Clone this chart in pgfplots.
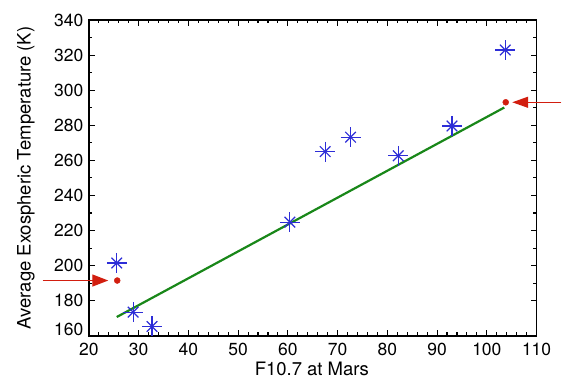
\documentclass[border=0pt]{standalone}
\usepackage{pgfplots}
\pgfplotsset{compat=1.18}
\usepackage{fontspec}
\setmainfont{TeX Gyre Heros}
\usetikzlibrary{arrows.meta}
\definecolor{starblue}{RGB}{45,45,215}
\definecolor{fitgreen}{RGB}{25,135,25}
\definecolor{arrred}{RGB}{210,30,15}
\begin{document}
\begin{tikzpicture}
\begin{axis}[
  scale only axis, width=448pt, height=316pt,
  xmin=20, xmax=110, ymin=160, ymax=340,
  xtick={20,30,...,110}, ytick={180,200,...,340},
  extra y ticks={160},
  extra y tick style={yticklabel style={yshift=6pt}},
  minor x tick num=4, minor y tick num=1,
  tick align=inside, major tick length=6pt, minor tick length=3.5pt,
  axis line style={line width=1.6pt},
  every tick/.style={black, line width=1.1pt},
  tick label style={font=\fontsize{17.5}{20}\selectfont},
  xticklabel style={anchor=base, yshift=-20pt},
  yticklabel style={anchor=east, xshift=-2pt},
  /pgf/number format/assume math mode=true,
  xlabel={F10.7 at Mars}, ylabel={Average Exospheric Temperature (K)},
  label style={font=\fontsize{18.5}{20}\selectfont},
  xlabel style={at={(axis description cs:0.498,-0.1266)}, anchor=base},
  ylabel style={at={(axis description cs:-0.1406,0.5)}, anchor=center},
  clip=false,
]
\path (axis cs:2.13,135.6) rectangle (axis cs:114.98,351.4);
% fit line
\addplot[fitgreen, line width=2.2pt] coordinates {(25.6,170.7) (103.5,290.1)};
% data asterisks (8 spokes)
\addplot[only marks, mark=+, mark size=10pt, starblue, mark options={line width=1.2pt}] table {
x y
25.6 201.5
28.9 173.5
32.7 165.3
60.4 224.8
67.5 265.0
72.6 273.2
82.2 262.6
93.0 279.6
103.7 322.9
};
\addplot[only marks, mark=x, mark size=7.5pt, starblue, mark options={line width=1.2pt}] table {
x y
25.6 201.5
28.9 173.5
32.7 165.3
60.4 224.8
67.5 265.0
72.6 273.2
82.2 262.6
93.0 279.6
103.7 322.9
};
% red dots
\addplot[only marks, mark=*, mark size=3pt, arrred] coordinates {(25.7,191.5) (103.8,293.1)};
\draw[arrred, line width=1.3pt, -{Triangle[length=16pt,width=12pt]}] (axis cs:10.7,191.5) -- (axis cs:23.9,191.5);
\draw[arrred, line width=1.3pt, -{Triangle[length=16pt,width=11pt]}] (axis cs:114.98,293.1) -- (axis cs:105.1,293.1);
\end{axis}
\end{tikzpicture}
\end{document}
